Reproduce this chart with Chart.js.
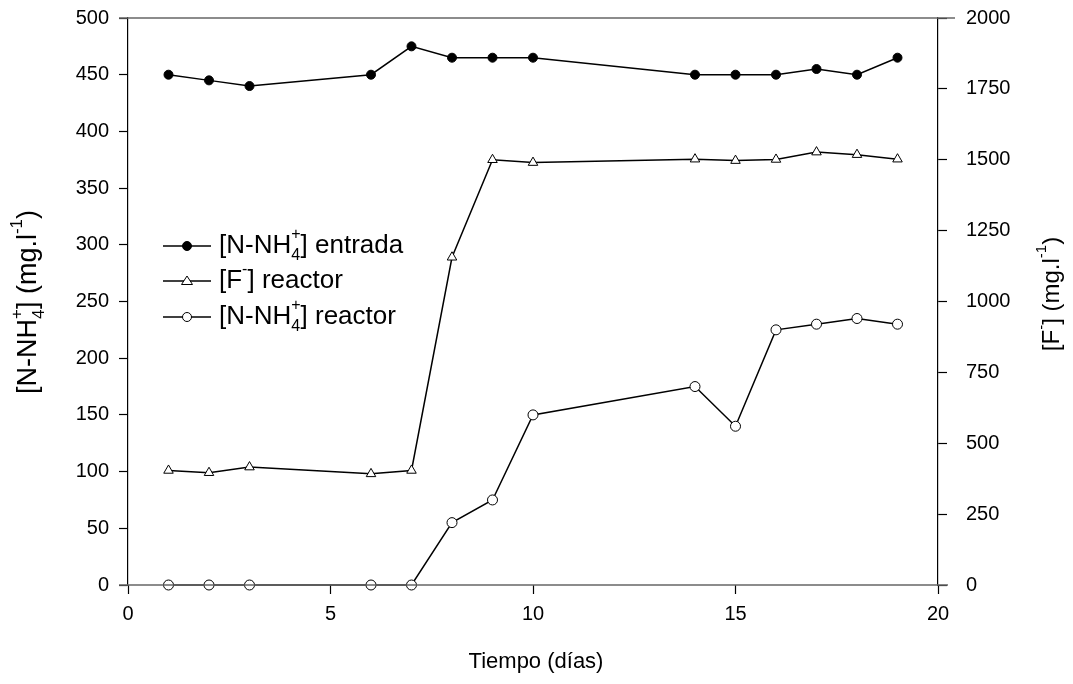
<!DOCTYPE html>
<html><head><meta charset="utf-8">
<script src="https://cdn.jsdelivr.net/npm/chart.js@4"></script>
<style>html,body{margin:0;padding:0;background:#fff;}canvas{display:block;}</style>
</head><body>
<canvas id="c" width="1073" height="684"></canvas>
<script>
const dias = [1,2,3,6,7,8,9,10,14,15,16,17,18,19];
const nh4Entrada = [450,445,440,450,475,465,465,465,450,450,450,455,450,465];
const fReactor = [404,396,416,392,404,1156,1500,1490,1502,1497,1501,1527,1518,1502];
const nh4Reactor = [0,0,0,0,0,55,75,150,175,140,225,230,235,230];
const xTicks = [0,5,10,15,20];
const yLeftTicks = [0,50,100,150,200,250,300,350,400,450,500];
const yRightTicks = [0,250,500,750,1000,1250,1500,1750,2000];

const FONT = '"Liberation Sans", Arial, sans-serif';
const pts = (ys) => dias.map((d,i)=>({x:d,y:ys[i]}));

function richWidth(ctx, parts, small){
  let w=0;
  for(const p of parts){
    if(p.t!==undefined){ w+=ctx.measureText(p.t).width; }
    else { const f=ctx.font; ctx.font=small; let a=p.sub?ctx.measureText(p.sub).width:0, b=p.sup?ctx.measureText(p.sup).width:0; ctx.font=f; w+=Math.max(a,b); }
  }
  return w;
}
function drawRich(ctx, parts, x, y, size){
  const big = size+'px '+FONT, small = Math.round(size*0.62)+'px '+FONT;
  ctx.font=big; ctx.textBaseline='middle'; ctx.textAlign='left';
  for(const p of parts){
    if(p.t!==undefined){ ctx.font=big; ctx.fillText(p.t,x,y); x+=ctx.measureText(p.t).width; }
    else { ctx.font=small; let a=0,b=0;
      if(p.sub){ ctx.fillText(p.sub,x,y+size*0.38); a=ctx.measureText(p.sub).width; }
      if(p.sup){ ctx.fillText(p.sup,x,y-size*0.42); b=ctx.measureText(p.sup).width; }
      x+=Math.max(a,b); ctx.font=big; }
  }
}
function drawRichCentered(ctx, parts, cx, cy, size){
  const big = size+'px '+FONT, small = Math.round(size*0.62)+'px '+FONT;
  ctx.font=big;
  const w=richWidth(ctx, parts, small);
  drawRich(ctx, parts, cx-w/2, cy, size);
}

const AREA_TOP = 18;
const fixTop = {
  id:'fixTop',
  afterLayout(chart){
    const ca = chart.chartArea;
    ca.top = AREA_TOP; ca.height = ca.bottom - ca.top;
    for(const id of ['y','y1']){
      const s = chart.scales[id];
      s.top = AREA_TOP; s.height = s.bottom - s.top;
      s.configure();
    }
  }
};

const decor = {
  id:'decor',
  afterDraw(chart){
    const ctx=chart.ctx, a=chart.chartArea;
    ctx.save();
    ctx.strokeStyle='#666'; ctx.lineWidth=1.5;
    ctx.beginPath(); ctx.moveTo(a.left-9,a.top); ctx.lineTo(a.right+17,a.top); ctx.stroke();
    ctx.beginPath(); ctx.moveTo(a.left-9,a.bottom); ctx.lineTo(a.right+10,a.bottom); ctx.stroke();
    ctx.fillStyle='#000';
    ctx.font='22px '+FONT; ctx.textAlign='center'; ctx.textBaseline='middle';
    ctx.fillText('Tiempo (días)', 536, 662);
    ctx.save(); ctx.translate(29,302); ctx.rotate(-Math.PI/2);
    drawRichCentered(ctx,[{t:'[N-NH'},{sub:'4',sup:'+'},{t:'] (mg.l'},{sup:'-1'},{t:')'}],0,0,27);
    ctx.restore();
    ctx.save(); ctx.translate(1052,294); ctx.rotate(-Math.PI/2);
    drawRichCentered(ctx,[{t:'[F'},{sup:'-'},{t:'] (mg.l'},{sup:'-1'},{t:')'}],0,0,24);
    ctx.restore();
    const rows=[
      {y:246, style:'circle', fill:'#000', r:4.5, parts:[{t:'[N-NH'},{sub:'4',sup:'+'},{t:'] entrada'}]},
      {y:281, style:'triangle', fill:'#fff', r:5, parts:[{t:'[F'},{sup:'-'},{t:'] reactor'}]},
      {y:317, style:'circle', fill:'#fff', r:4.5, parts:[{t:'[N-NH'},{sub:'4',sup:'+'},{t:'] reactor'}]}
    ];
    for(const r of rows){
      ctx.strokeStyle='#000'; ctx.lineWidth=1.5;
      ctx.beginPath(); ctx.moveTo(163,r.y); ctx.lineTo(211,r.y); ctx.stroke();
      ctx.fillStyle=r.fill; ctx.lineWidth=1;
      ctx.beginPath();
      if(r.style==='circle'){ ctx.arc(187,r.y,r.r,0,Math.PI*2); }
      else { ctx.moveTo(187,r.y-r.r); ctx.lineTo(187+r.r*1.1,r.y+r.r*0.7); ctx.lineTo(187-r.r*1.1,r.y+r.r*0.7); ctx.closePath(); }
      ctx.fill(); ctx.stroke();
      ctx.fillStyle='#000';
      drawRich(ctx,r.parts,219,r.y,26);
    }
    ctx.restore();
  }
};

const tickFont = {family:FONT, size:20};
const plain = v => String(v);
new Chart(document.getElementById('c'),{
  type:'line',
  data:{datasets:[
    {label:'[N-NH4+] entrada', data:pts(nh4Entrada), yAxisID:'y', borderColor:'#000', borderWidth:1.5,
     pointStyle:'circle', pointRadius:4.5, pointBackgroundColor:'#000', pointBorderColor:'#000', pointBorderWidth:1, tension:0, clip:false},
    {label:'[F-] reactor', data:pts(fReactor), yAxisID:'y1', borderColor:'#000', borderWidth:1.5,
     pointStyle:'triangle', pointRadius:5.5, pointBackgroundColor:'#fff', pointBorderColor:'#000', pointBorderWidth:1, tension:0, clip:false},
    {label:'[N-NH4+] reactor', data:pts(nh4Reactor), yAxisID:'y', borderColor:'#000', borderWidth:1.5,
     pointStyle:'circle', pointRadius:5, pointBackgroundColor:'#fff', pointBorderColor:'#000', pointBorderWidth:1, tension:0, clip:false}
  ]},
  options:{
    responsive:false, animation:false, devicePixelRatio:1,
    layout:{padding:{top:18,left:0,right:0,bottom:0}, autoPadding:false},
    plugins:{legend:{display:false}, tooltip:{enabled:false}},
    scales:{
      x:{type:'linear', min:0, max:20, position:'bottom',
        afterBuildTicks(s){ s.ticks = xTicks.map(v=>({value:v})); },
        afterFit(s){ s.height=99; },
        border:{display:false},
        grid:{drawOnChartArea:false, drawTicks:true, tickLength:9, tickColor:'#000', tickWidth:1.2},
        ticks:{color:'#000', font:tickFont, padding:8, maxRotation:0, callback:plain}
      },
      y:{type:'linear', position:'left', min:0, max:500,
        afterBuildTicks(s){ s.ticks = yLeftTicks.map(v=>({value:v})); },
        afterFit(s){ s.width=128; },
        border:{display:true, color:'#000', width:1.2},
        grid:{drawOnChartArea:false, drawTicks:true, tickLength:9, tickColor:'#000', tickWidth:1.2},
        ticks:{color:'#000', font:tickFont, padding:10, callback:plain}
      },
      y1:{type:'linear', position:'right', min:0, max:2000,
        afterBuildTicks(s){ s.ticks = yRightTicks.map(v=>({value:v})); },
        afterFit(s){ s.width=135; },
        border:{display:true, color:'#000', width:1.2},
        grid:{drawOnChartArea:false, drawTicks:true, tickLength:9, tickColor:'#000', tickWidth:1.2},
        ticks:{color:'#000', font:tickFont, padding:19, callback:plain}
      }
    }
  },
  plugins:[fixTop, decor]
});
</script>
</body></html>
